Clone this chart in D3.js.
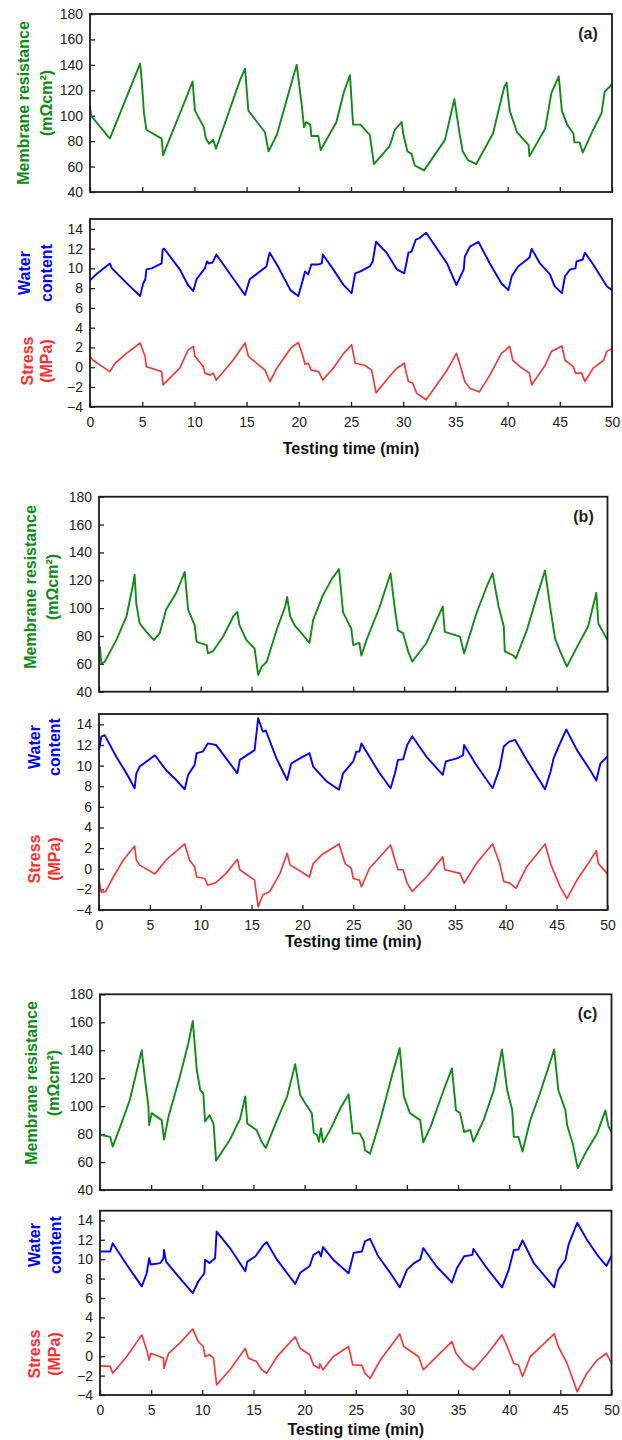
<!DOCTYPE html>
<html>
<head>
<meta charset="utf-8">
<script src="https://cdn.jsdelivr.net/npm/d3@7"></script>
<style>
body { margin: 0; background: #fff; }
text { font-family: Arial, "Liberation Sans", sans-serif; }
</style>
</head>
<body>
<div id="canvas"></div>
<script>
// [time (min), value]
var resA = [[0,107],[0.1,100],[1.9,82],[4.8,141],[4.95,128],[5.17,102],[5.4,89],[6.86,82],[7.0,69],[9.26,115],[9.83,127],[10.05,104],[10.9,91],[11.1,82],[11.4,78],[11.8,81],[12.07,74],[14.37,128],[14.85,137],[15.17,104],[16.76,87],[17.1,72],[17.9,85],[19.2,123],[19.8,140],[20.3,107],[20.5,91],[20.7,95],[21.1,93],[21.2,84],[21.87,84],[22.1,73],[23.6,95],[24.3,118],[24.9,132],[25.2,93],[25.9,93],[26.8,85],[27.2,62],[28.7,76],[29.2,89],[29.85,95],[30.0,86],[30.4,72],[30.8,70],[31.1,61],[32.0,57],[34.0,81],[34.9,113],[35.4,86],[35.7,72],[36.2,65],[37.0,62],[38.6,86],[39.3,110],[39.7,123],[39.9,126],[40.2,104],[40.9,87],[42.0,77],[42.1,68],[43.6,90],[44.2,118],[44.9,131],[45.2,104],[45.7,93],[46.3,86],[46.4,79],[46.9,79],[47.2,71],[48.2,89],[49.0,102],[49.3,119],[49.8,123],[50,125]];
var waterA = [[0,8.8],[0.6,9.4],[1.9,10.5],[2.1,10.0],[3.8,8.2],[4.8,7.2],[5.1,8.5],[5.3,8.9],[5.4,9.9],[5.9,10.0],[6.86,10.5],[6.96,11.9],[7.1,12.0],[8.6,9.9],[9.4,8.3],[9.9,7.7],[10.2,8.9],[11.0,10.0],[11.2,10.7],[11.4,10.5],[11.75,10.6],[12.1,11.4],[13.7,9.0],[14.85,7.3],[15.3,8.9],[16.9,10.2],[17.2,11.6],[17.9,10.4],[19.2,7.8],[19.95,7.2],[20.3,8.5],[20.6,9.7],[20.9,9.4],[21.2,10.4],[21.9,10.4],[22.2,10.5],[22.3,11.4],[23.3,9.9],[24.3,8.3],[25.06,7.5],[25.4,9.5],[25.9,9.7],[26.8,10.2],[27.08,10.7],[27.4,12.7],[28.4,11.6],[29.4,9.9],[30.1,9.5],[30.3,10.5],[30.5,11.6],[30.8,11.7],[31.2,12.9],[31.6,13.1],[32.2,13.6],[34.2,10.5],[35.1,8.3],[35.8,9.9],[35.9,11.2],[36.4,12.2],[37.2,12.7],[38.3,10.5],[39.4,8.5],[40.07,7.8],[40.4,9.2],[41.0,10.2],[42.1,11.1],[42.3,12.0],[43.1,10.5],[44.06,9.4],[44.5,8.2],[45.2,7.5],[45.5,9.2],[46.0,9.9],[46.5,10.0],[46.6,10.7],[47.2,10.9],[47.4,11.6],[48.2,10.4],[49.5,8.2],[50,7.8]];
var stressA = [[0,1.1],[0.3,0.7],[1.9,-0.45],[2.4,0.4],[3.5,1.4],[4.8,2.45],[5.27,1.1],[5.4,0.05],[6.86,-0.45],[7.0,-1.8],[8.6,-0.1],[9.4,1.75],[9.9,2.1],[10.05,1.1],[10.86,0.05],[11.0,-0.6],[11.5,-0.8],[11.8,-0.6],[12.1,-1.3],[13.7,0.7],[14.85,2.45],[15.17,1.1],[16.76,-0.3],[17.24,-1.45],[17.9,-0.1],[19.2,1.9],[19.95,2.5],[20.4,1.1],[20.6,0.3],[20.9,0.4],[21.2,-0.3],[21.9,-0.45],[22.3,-1.3],[23.3,-0.1],[24.3,1.4],[25.06,2.25],[25.4,0.4],[26.3,0.2],[26.98,-0.3],[27.4,-2.6],[28.4,-1.3],[29.4,-0.1],[30.1,0.4],[30.3,-0.6],[30.5,-1.45],[30.9,-1.6],[31.3,-2.65],[32.2,-3.3],[34.2,-0.3],[35.1,1.4],[35.4,0.4],[35.9,-1.45],[36.4,-2.15],[37.3,-2.5],[38.3,-0.8],[39.4,1.4],[40.2,2.1],[40.5,0.7],[41.2,0.05],[42.1,-0.6],[42.3,-1.8],[43.6,0.2],[44.2,1.6],[45.2,2.15],[45.5,0.7],[46.3,0.05],[46.5,-0.6],[47.1,-0.6],[47.4,-1.45],[48.2,-0.1],[49.2,0.7],[49.5,1.6],[50,1.9]];

var resB = [[0,72],[0.1,72],[0.23,60],[0.56,61.5],[1.7,77],[2.7,94],[3.35,117],[3.5,124],[3.67,103],[4.0,89],[4.66,83],[5.4,77],[5.97,82],[6.6,99],[7.6,111],[8.43,126],[8.76,99],[9.4,88],[9.6,76],[9.9,75],[10.6,73.5],[10.7,67.5],[11.2,69],[12.2,79.5],[13.2,94],[13.6,97.4],[13.8,88],[14.5,77],[15.3,71],[15.65,52],[16.0,58],[16.5,61.5],[17.45,84],[18.3,101],[18.5,108],[18.8,94],[19.3,87],[19.9,82],[20.7,75],[21.06,91.5],[22.0,109],[22.9,121],[23.6,128],[24.0,97],[24.8,85.5],[25.0,73.5],[25.6,75],[25.8,66],[26.3,77],[27.6,101],[28.67,125],[29.1,99],[29.4,84],[29.9,82],[30.4,69],[30.8,61.5],[32.2,75],[33.2,91.5],[33.8,101],[34.0,83],[35.5,79.5],[35.9,67.5],[37.1,96],[38.1,115],[38.7,125],[39.3,101],[39.8,87],[39.9,69],[40.75,66],[41.0,64],[42.06,84],[43.0,107],[43.86,127],[44.4,99],[44.85,78],[45.35,69],[46.0,58],[47.0,72],[48.1,87],[48.9,111],[49.1,89],[50,77]];
var waterB = [[0,11.5],[0.23,12.8],[0.56,12.95],[1.7,10.85],[2.7,9.25],[3.5,7.8],[3.67,9.25],[4.0,9.9],[5.3,10.85],[5.5,11.0],[6.6,9.55],[7.6,8.6],[8.43,7.7],[8.76,9.1],[9.4,10.05],[9.6,11.2],[10.2,11.35],[10.7,12.15],[11.5,12.0],[12.5,10.7],[13.6,9.25],[13.85,10.55],[15.3,11.5],[15.65,14.6],[16.1,13.3],[16.4,13.4],[17.45,10.7],[18.5,8.6],[18.9,10.2],[19.75,10.7],[20.7,11.2],[21.06,9.9],[22.4,8.45],[23.6,7.65],[24.0,9.25],[25.0,10.4],[25.3,11.35],[25.6,11.35],[25.8,12.15],[26.6,10.85],[27.6,9.25],[28.67,7.8],[29.1,9.25],[29.4,10.55],[29.9,10.6],[30.3,12.0],[30.8,12.85],[32.2,10.85],[33.8,9.1],[34.1,10.4],[35.2,10.7],[35.8,11.0],[35.9,12.0],[37.1,10.05],[38.7,7.8],[39.4,9.75],[39.8,11.85],[40.3,12.3],[40.9,12.5],[42.06,10.55],[43.86,7.7],[44.4,9.4],[44.7,10.7],[45.2,11.85],[45.95,13.5],[47.0,11.5],[48.3,9.55],[48.9,8.55],[49.3,10.2],[50,10.9]];
var stressB = [[0,-1.1],[0.23,-2.3],[0.66,-2.2],[1.4,-0.8],[2.4,0.85],[3.5,2.2],[3.67,0.85],[4.0,0.35],[5.5,-0.5],[6.6,0.85],[8.43,2.4],[8.9,0.85],[9.4,0.2],[9.6,-0.8],[10.4,-0.95],[10.7,-1.6],[11.5,-1.35],[12.5,-0.45],[13.6,0.9],[13.85,-0.1],[15.3,-1.1],[15.65,-3.7],[16.1,-2.55],[16.8,-2.2],[17.8,-0.45],[18.5,1.5],[18.8,0.35],[19.9,-0.3],[20.7,-0.8],[21.06,0.5],[21.9,1.35],[23.6,2.4],[24.2,0.5],[24.8,0.05],[25.0,-0.95],[25.6,-1.1],[25.8,-1.75],[26.6,0.05],[28.67,2.3],[29.1,0.85],[29.4,-0.1],[29.9,-0.1],[30.3,-1.4],[30.8,-2.2],[32.2,-0.8],[33.8,1.15],[34.0,-0.1],[35.5,-0.45],[35.9,-1.4],[37.1,0.5],[38.7,2.4],[39.4,0.5],[39.8,-1.25],[40.4,-1.4],[41.0,-1.9],[42.06,0.2],[43.86,2.4],[44.4,0.5],[44.85,-0.6],[45.35,-1.75],[46.0,-2.9],[47.0,-1.1],[48.1,0.5],[48.9,1.75],[49.1,0.5],[50,-0.5]];

var resC = [[0,79.5],[1.0,78],[1.24,71],[1.96,85],[2.9,104],[4.08,140],[4.4,119],[4.73,100],[4.8,86.5],[5.06,95],[5.54,92.5],[6.03,90],[6.26,76],[6.7,92.5],[7.8,121],[8.64,145],[9.07,161],[9.46,126],[9.8,111.5],[10.1,109],[10.27,89],[10.7,93.5],[11.1,87.5],[11.35,61],[12.7,76],[13.7,91],[14.2,107],[14.4,87.5],[15.3,83],[15.8,74.5],[16.2,70],[17.3,90],[18.3,107],[19.08,130],[19.57,108],[20.06,102],[20.7,95],[20.9,81],[21.2,79.5],[21.4,74.5],[21.6,84],[21.8,74],[22.5,83],[23.5,98.5],[24.3,108.5],[24.7,80.5],[25.4,80.5],[25.8,74.5],[25.9,68.5],[26.4,66],[27.4,90],[28.6,123.5],[29.3,141.5],[29.7,107],[30.3,95],[31.3,90],[31.6,74],[32.3,85],[33.6,111.5],[34.4,127],[34.8,97],[35.2,95],[35.6,81.5],[36.2,83],[36.5,74.5],[37.5,90],[38.5,111.5],[39.3,140.5],[39.8,111.5],[40.3,97],[40.45,78],[40.9,78],[41.3,67.5],[42.06,90],[43.0,109],[44.4,140.5],[44.8,111.5],[45.5,97],[45.66,86.5],[46.2,73.5],[46.7,55.5],[47.6,68.5],[48.6,80.5],[49.4,97],[49.7,85.5],[50,81.5]];
var waterC = [[0,10.8],[1.0,10.8],[1.24,11.65],[2.6,9.45],[4.08,7.2],[4.57,8.55],[4.8,10.1],[4.96,9.45],[5.9,9.6],[6.2,10.1],[6.26,10.95],[6.46,9.75],[7.8,8.05],[9.07,6.5],[9.6,7.7],[10.2,8.55],[10.27,9.95],[10.7,9.6],[11.25,10.1],[11.4,12.85],[12.7,11.15],[14.2,8.75],[14.4,9.75],[15.2,10.3],[16.0,11.5],[16.3,11.75],[17.3,9.95],[19.08,7.45],[19.57,8.6],[20.5,9.3],[20.87,10.45],[21.4,10.8],[21.6,10.3],[21.8,11.25],[22.8,9.95],[24.3,8.55],[24.8,10.65],[25.6,10.8],[25.9,11.85],[26.4,12.1],[27.2,10.3],[28.4,8.55],[29.3,7.1],[30.0,8.9],[30.7,9.6],[31.3,9.95],[31.6,11.15],[32.9,9.25],[34.4,7.6],[34.9,9.1],[35.6,10.3],[36.4,10.45],[36.5,11.05],[37.8,9.1],[39.3,7.1],[39.95,8.9],[40.45,10.95],[40.9,11.0],[41.3,11.95],[42.4,9.6],[44.4,7.1],[44.8,8.9],[45.5,9.95],[45.8,11.5],[46.65,13.75],[47.6,12.0],[48.6,10.45],[49.5,9.3],[50,10.35]];
var stressC = [[0,-1.0],[1.0,-1.05],[1.24,-1.75],[2.6,-0.05],[4.08,2.2],[4.57,0.65],[4.8,-0.4],[4.96,0.3],[5.9,-0.05],[6.2,-0.2],[6.26,-1.25],[6.7,0.3],[7.8,1.35],[9.07,2.8],[9.6,1.5],[10.1,1.0],[10.27,-0.05],[10.7,0.15],[11.1,-0.2],[11.4,-2.95],[12.7,-1.4],[14.2,0.8],[14.5,-0.2],[15.3,-0.55],[15.8,-1.4],[16.3,-1.75],[17.3,-0.05],[19.08,2.0],[19.57,0.8],[20.5,0.15],[20.87,-0.9],[21.4,-1.25],[21.5,-0.8],[21.8,-1.4],[22.8,-0.05],[24.3,1.0],[24.7,-0.9],[25.6,-0.95],[25.9,-1.75],[26.4,-2.3],[27.4,-0.4],[29.3,2.3],[29.7,1.0],[31.15,-0.05],[31.6,-1.4],[32.9,-0.05],[34.4,1.5],[34.8,0.3],[35.6,-0.75],[36.5,-1.4],[37.8,0.15],[39.3,2.2],[39.8,1.0],[40.45,-0.75],[40.9,-0.9],[41.3,-2.1],[42.06,-0.05],[44.4,2.3],[44.8,1.0],[45.66,-0.75],[46.65,-3.65],[47.6,-1.75],[48.6,-0.4],[49.5,0.3],[50,-0.75]];

var xTicks = [0, 5, 10, 15, 20, 25, 30, 35, 40, 45, 50];
var resTicks = [40, 60, 80, 100, 120, 140, 160, 180];
var lowTicks = [-4, -2, 0, 2, 4, 6, 8, 10, 12, 14];

var green = "#12891a",
    blue = "#0000ff",
    red = "#f23c3c";

// page layout of each panel
var panels = [
    { tag: "(a)", res: resA, water: waterA, stress: stressA,
      left: 90, right: 612, t1: 14, b1: 192, t2: 219, b2: 406.7, titleY: 454,
      resX: [29, 52], resY: 103, watX: [30, 52], watY: 273, strX: [33, 52], strY: 361 },
    { tag: "(b)", res: resB, water: waterB, stress: stressB,
      left: 99, right: 607.5, t1: 496.7, b1: 691.7, t2: 714, b2: 910, titleY: 947,
      resX: [36, 58], resY: 587, watX: [40, 60], watY: 747, strX: [40, 60], strY: 859 },
    { tag: "(c)", res: resC, water: waterC, stress: stressC,
      left: 100, right: 611.5, t1: 994.3, b1: 1190, t2: 1210.7, b2: 1395, titleY: 1435,
      resX: [37, 59], resY: 1083, watX: [40, 61], watY: 1245, strX: [40, 60], strY: 1354 }
];

var svg = d3.select("#canvas")
    .append("svg")
    .attr("width", 622)
    .attr("height", 1440);

panels.forEach(drawPanel);

function vTitle(g, lines, xs, cy, color) {
    lines.forEach(function(s, i) {
        g.append("text")
            .attr("transform", "translate(" + xs[i] + "," + cy + ") rotate(-90)")
            .attr("text-anchor", "middle")
            .style("font-size", "16px")
            .style("font-weight", "bold")
            .style("fill", color)
            .text(s);
    });
}

function styleAxis(a) {
    a.select(".domain").remove();
    a.selectAll("line").attr("stroke", "#222").attr("stroke-width", 1.3);
    a.selectAll("text").style("font-size", "14px").attr("fill", "#222")
        .style("font-family", "Arial, 'Liberation Sans', sans-serif");
}

function drawPanel(p) {
    var g = svg.append("g");

    var x = d3.scaleLinear().domain([0, 50]).range([p.left, p.right]);
    var yRes = d3.scaleLinear().domain([40, 180]).range([p.b1, p.t1]);
    var yLow = d3.scaleLinear().domain([-4, 15]).range([p.b2, p.t2]);

    // top plot: membrane resistance
    var ay = g.append("g").attr("transform", "translate(" + p.left + ",0)")
        .call(d3.axisLeft(yRes).tickValues(resTicks).tickSize(-5).tickPadding(7));
    styleAxis(ay);
    var ax = g.append("g").attr("transform", "translate(0," + p.b1 + ")")
        .call(d3.axisBottom(x).tickValues(xTicks).tickSize(-5).tickFormat(""));
    styleAxis(ax);

    var lineRes = d3.line().x(function(d) { return x(d[0]); }).y(function(d) { return yRes(d[1]); });
    g.append("path").datum(p.res)
        .attr("d", lineRes)
        .attr("fill", "none")
        .attr("stroke", green)
        .attr("stroke-width", 1.9)
        .attr("stroke-linejoin", "round");

    g.append("rect")
        .attr("x", p.left).attr("y", p.t1)
        .attr("width", p.right - p.left).attr("height", p.b1 - p.t1)
        .attr("fill", "none").attr("stroke", "#1a1a1a").attr("stroke-width", 1.8);

    g.append("text")
        .attr("x", p.right - 24).attr("y", p.t1 + 25)
        .attr("text-anchor", "middle")
        .style("font-size", "16px").style("font-weight", "bold").style("fill", "#222")
        .text(p.tag);

    // bottom plot: water content + stress
    var ay2 = g.append("g").attr("transform", "translate(" + p.left + ",0)")
        .call(d3.axisLeft(yLow).tickValues(lowTicks).tickSize(-5).tickPadding(7));
    styleAxis(ay2);
    var ax2 = g.append("g").attr("transform", "translate(0," + p.b2 + ")")
        .call(d3.axisBottom(x).tickValues(xTicks).tickSize(-5).tickPadding(10));
    styleAxis(ax2);

    var lineLow = d3.line().x(function(d) { return x(d[0]); }).y(function(d) { return yLow(d[1]); });
    g.append("path").datum(p.water)
        .attr("d", lineLow)
        .attr("fill", "none")
        .attr("stroke", blue)
        .attr("stroke-width", 1.9)
        .attr("stroke-linejoin", "round");
    g.append("path").datum(p.stress)
        .attr("d", lineLow)
        .attr("fill", "none")
        .attr("stroke", red)
        .attr("stroke-width", 1.7)
        .attr("stroke-linejoin", "round");

    g.append("rect")
        .attr("x", p.left).attr("y", p.t2)
        .attr("width", p.right - p.left).attr("height", p.b2 - p.t2)
        .attr("fill", "none").attr("stroke", "#1a1a1a").attr("stroke-width", 1.8);

    g.append("text")
        .attr("x", (p.left + p.right) / 2).attr("y", p.titleY)
        .attr("text-anchor", "middle")
        .style("font-size", "16px").style("font-weight", "bold").style("fill", "#111")
        .text("Testing time (min)");

    vTitle(g, ["Membrane resistance", "(m\u03A9cm\u00B2)"], p.resX, p.resY, green);
    vTitle(g, ["Water", "content"], p.watX, p.watY, blue);
    vTitle(g, ["Stress", "(MPa)"], p.strX, p.strY, "#ff3030");
}
</script>
</body>
</html>
